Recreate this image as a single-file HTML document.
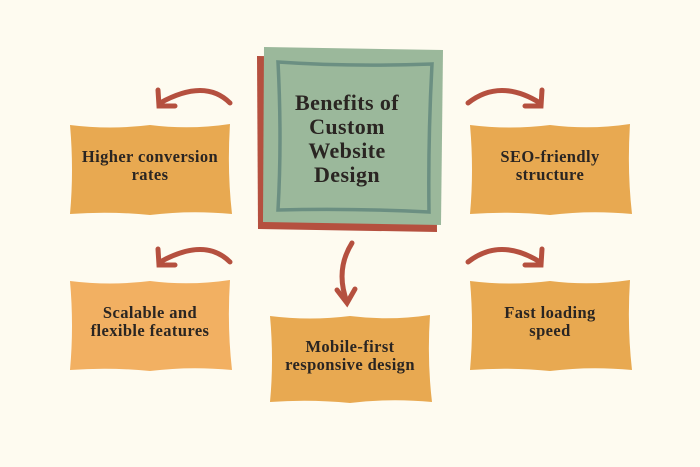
<!DOCTYPE html><html><head><style>body{margin:0;background:#fefbf0}svg{display:block}
text{font-family:"Liberation Serif",serif;font-weight:bold;fill:#2a2522;text-anchor:middle;letter-spacing:0.4px}</style></head><body>
<svg width="700" height="467" viewBox="0 0 700 467">
<rect width="700" height="467" fill="#fefbf0"/>
<g stroke="#b5503f" stroke-width="5" fill="none" stroke-linecap="round">
<path d="M230 103 Q205 78 160 103"/><path d="M158 90 L159 106 L175 106"/>
<path d="M230 262 Q205 237 160 262"/><path d="M158 249 L159 265 L175 265"/>
<path d="M468 103 Q500 78 540 103"/><path d="M542 90 L541 106 L525 106"/>
<path d="M468 262 Q500 237 540 262"/><path d="M542 249 L541 265 L525 265"/>
<path d="M352 243 Q335 270 347 302"/><path d="M337 290 L347 303 L355 289"/>
</g>
<path d="M257 56 L436 58 L437 232 L258 229 Z" fill="#b5503f"/>
<path d="M264 47 L443 50 L441 225 L263 222 Z" fill="#9bb89b"/>
<path d="M278 62 Q350 67 432 64 Q428 140 429 212 Q350 208 278 210 Q282 140 278 62 Z" fill="none" stroke="#6b8f82" stroke-width="3.5"/>
<text font-size="22" x="347" y="110">Benefits of</text>
<text font-size="22" x="347" y="134">Custom</text>
<text font-size="22" x="347" y="158">Website</text>
<text font-size="22" x="347" y="182">Design</text>
<path d="M70 125 Q110 130 150 125 Q190 130 230 124 Q227 170 232 214 Q190 210 150 215 Q110 211 70 214 Q74 170 70 125Z" fill="#e8a951"/>
<text font-size="16.5" x="150" y="162">Higher conversion</text><text font-size="16.5" x="150" y="180">rates</text>
<path d="M470 125 Q510 130 550 125 Q590 130 630 124 Q627 170 632 214 Q590 210 550 215 Q510 211 470 214 Q474 170 470 125Z" fill="#e8a951"/>
<text font-size="16.5" x="550" y="162">SEO-friendly</text><text font-size="16.5" x="550" y="180">structure</text>
<path d="M70 281 Q110 286 150 281 Q190 286 230 280 Q227 326 232 370 Q190 366 150 371 Q110 367 70 370 Q74 326 70 281Z" fill="#f2b062"/>
<text font-size="16.5" x="150" y="318">Scalable and</text><text font-size="16.5" x="150" y="336">flexible features</text>
<path d="M470 281 Q510 286 550 281 Q590 286 630 280 Q627 326 632 370 Q590 366 550 371 Q510 367 470 370 Q474 326 470 281Z" fill="#e8a951"/>
<text font-size="16.5" x="550" y="318">Fast loading</text><text font-size="16.5" x="550" y="336">speed</text>
<path d="M270 316 Q310 321 350 316 Q390 321 430 315 Q427 360 432 402 Q390 398 350 403 Q310 399 270 402 Q274 360 270 316Z" fill="#e8a951"/>
<text font-size="16.5" x="350" y="352">Mobile-first</text><text font-size="16.5" x="350" y="370">responsive design</text>
</svg></body></html>
